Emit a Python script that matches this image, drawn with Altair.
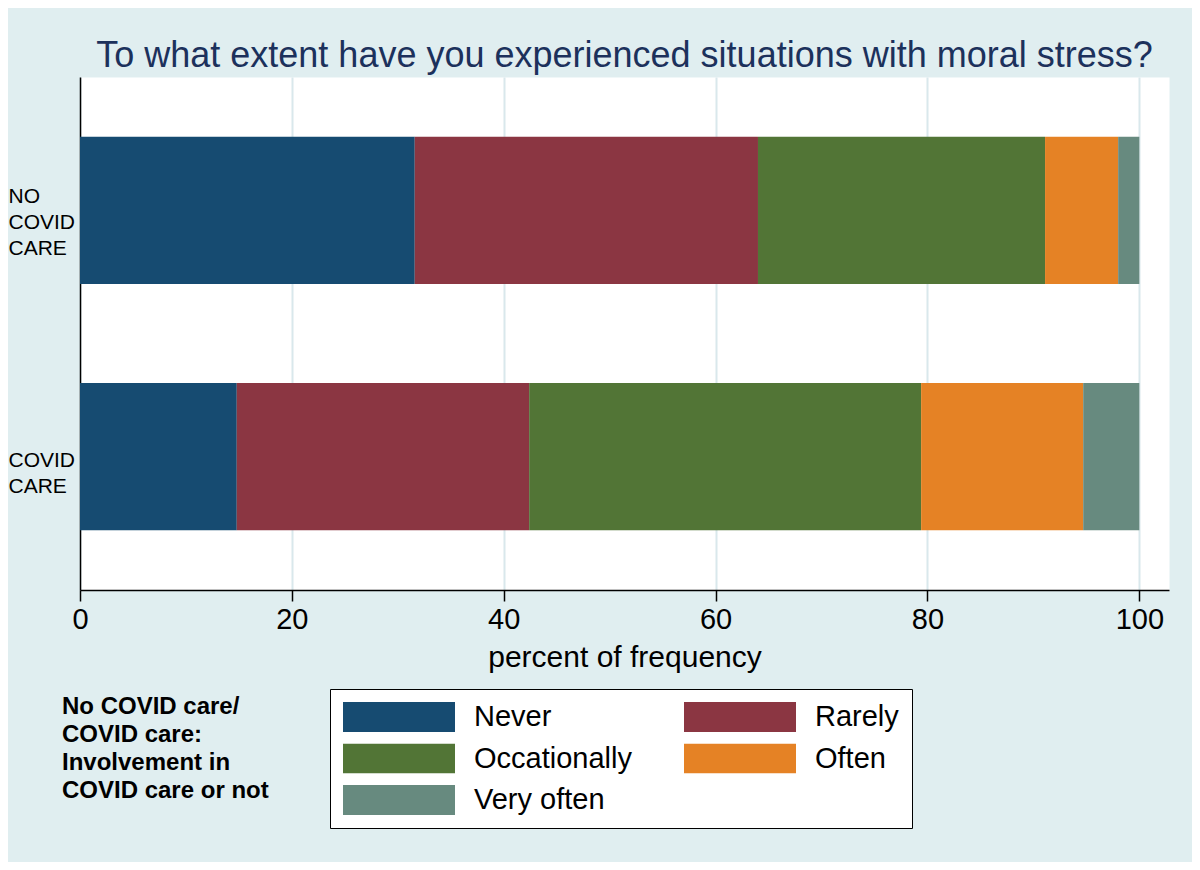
import altair as alt
import pandas as pd

groups = ["NO COVID CARE", "COVID CARE"]
levels = ["Never", "Rarely", "Occationally", "Often", "Very often"]
no_covid_care = [31.6, 32.4, 27.1, 6.9, 2.0]
covid_care = [14.8, 27.6, 37.0, 15.3, 5.3]
colors = ["#164b71", "#8b3642", "#527536", "#e58225", "#678a7f"]
x_ticks = [0, 20, 40, 60, 80, 100]
title_text = "To what extent have you experienced situations with moral stress?"
x_title = "percent of frequency"
note_lines = ["No COVID care/", "COVID care:", "Involvement in", "COVID care or not"]

FONT = "Liberation Sans"

rows = []
for g, vals in zip(groups, [no_covid_care, covid_care]):
    for i, (lvl, v) in enumerate(zip(levels, vals)):
        rows.append({"group": g, "level": lvl, "order": i, "value": v})
df = pd.DataFrame(rows)

bars = alt.Chart(df).mark_bar(strokeWidth=0).encode(
    x=alt.X(
        "value:Q",
        stack="zero",
        scale=alt.Scale(domain=[0, 102.8], nice=False, zero=True),
        axis=alt.Axis(
            values=x_ticks,
            title=x_title,
            format="d",
            labelFlush=False,
            domainColor="black",
            domainWidth=1.5,
            tickColor="black",
            tickSize=11,
            tickWidth=1.5,
            labelFontSize=29,
            labelFont=FONT,
            labelColor="black",
            labelPadding=4,
            titleFontSize=30,
            titleFont=FONT,
            titleFontWeight="normal",
            titleColor="black",
            titlePadding=8,
            grid=True,
            gridColor="#d9e8ec",
            gridWidth=2,
        ),
    ),
    y=alt.Y(
        "group:N",
        sort=groups,
        scale=alt.Scale(paddingInner=0.402, paddingOuter=0.242),
        axis=alt.Axis(
            title=None,
            domainColor="black",
            domainWidth=1.5,
            ticks=False,
            tickSize=0,
            grid=False,
            labelAlign="left",
            labelBaseline="middle",
            labelPadding=72,
            labelFontSize=21,
            labelFont=FONT,
            labelColor="black",
            labelLineHeight=26,
            labelOffset={
                "condition": {"test": "datum.label == 'NO COVID CARE'", "value": -13},
                "value": 4,
            },
            labelLimit=400,
            labelExpr="split(datum.label, ' ')",
        ),
    ),
    color=alt.Color(
        "level:N",
        scale=alt.Scale(domain=levels, range=colors),
        legend=alt.Legend(
            title=None,
            orient="none",
            direction="horizontal",
            legendX=250,
            legendY=612,
            columns=2,
            columnPadding=52,
            rowPadding=11.5,
            padding=13,
            fillColor="white",
            strokeColor="black",
            symbolType="M-1,-0.268L1,-0.268L1,0.268L-1,0.268Z",
            symbolSize=12544,
            symbolStrokeWidth=0,
            symbolOpacity=1,
            clipHeight=30,
            labelFontSize=29,
            labelFont=FONT,
            labelColor="black",
            labelOffset=19,
            labelLimit=400,
        ),
    ),
    order=alt.Order("order:Q"),
)

note_df = pd.DataFrame({"note": ["\n".join(note_lines)]})
note = alt.Chart(note_df).mark_text(
    align="left",
    baseline="alphabetic",
    fontSize=24,
    fontWeight="bold",
    font=FONT,
    color="black",
    lineBreak="\n",
    lineHeight=28,
).encode(x=alt.value(-18), y=alt.value(637), text="note:N")

chart = (
    alt.layer(bars, note)
    .properties(
        width=1089,
        height=513,
        title=alt.TitleParams(
            title_text,
            fontSize=36,
            font=FONT,
            fontWeight="normal",
            color="#1c315c",
            anchor="middle",
            frame="group",
            offset=2,
        ),
        padding={"left": 72, "top": 69, "right": 23, "bottom": 272},
        autosize=alt.AutoSizeParams(type="none"),
        background="#e0eef0",
    )
    .configure_view(fill="white", stroke="transparent")
)

chart.save("out.html", embed_options={"renderer": "svg", "actions": False})
